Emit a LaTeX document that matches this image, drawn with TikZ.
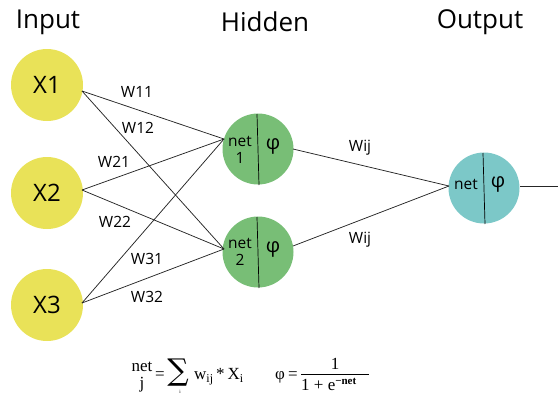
\documentclass[tikz,border=0pt]{standalone}
\usepackage{fontspec}
\setmainfont{Open Sans}
\newfontfamily\formfont{Liberation Serif}
\newfontfamily\symfont{DejaVu Serif}
\newcommand{\ff}{\fontsize{17}{17}\selectfont\formfont}
\begin{document}
\begin{tikzpicture}[x=1pt,y=-1pt,
  inp/.style={circle,fill=inyellow,minimum size=72pt,inner sep=0pt,font=\fontsize{24}{24}\selectfont},
  hid/.style={circle,fill=hidgreen,minimum size=71pt,inner sep=0pt},
  outn/.style={circle,fill=outteal,minimum size=71pt,inner sep=0pt},
  title/.style={font=\fontsize{26}{26}\selectfont},
  wlab/.style={font=\fontsize{15.5}{16}\selectfont},
  ntxt/.style={font=\fontsize{15.5}{17}\selectfont,align=center},
  phi/.style={font=\fontsize{20}{20}\selectfont},
  conn/.style={draw=black!85,line width=0.75pt},
  ft/.style={inner sep=0pt,anchor=base}]
\definecolor{inyellow}{RGB}{233,226,88}
\definecolor{hidgreen}{RGB}{120,190,118}
\definecolor{outteal}{RGB}{124,200,200}
\useasboundingbox (0,0) rectangle (558,400);
% titles
\node[title] (tin) at (48,22) {Input};
\node[title] (thid) at (265,22) {Hidden};
\node[title] (tout) at (480,22) {Output};
% input nodes
\node[inp] (x1) at (47,85) {X1};
\node[inp] (x2) at (47,193) {X2};
\node[inp] (x3) at (47,305) {X3};
% hidden nodes
\node[hid] (h1) at (258,149) {};
\node[hid] (h2) at (258,252) {};
\node[outn] (o) at (484,188) {};
% dividers
\draw[line width=0.7pt] (257,114) -- (259,185);
\draw[line width=0.7pt] (257,217) -- (259,288);
\draw[line width=0.7pt] (483,153) -- (485,224);
% node texts
\node[ntxt] (n1) at (240,150) {net\\1};
\node[ntxt] (n2) at (240,252) {net\\2};
\node[phi] (p1) at (273,146) {φ};
\node[phi] (p2) at (273,249) {φ};
\node[ntxt] (n3) at (466,184) {net};
\node[phi] (p3) at (498,184) {φ};
% anchor coordinates
\coordinate (s1) at (82,91);
\coordinate (s2) at (82,190);
\coordinate (s3) at (82,303);
\coordinate (t1) at (224,139);
\coordinate (t2) at (224,249);
\coordinate (u1) at (293,149);
\coordinate (u2) at (293,246);
\coordinate (v) at (449,186);
\coordinate (w) at (520,186);
\coordinate (wend) at (558,186);
% connections
\draw[conn] (s1) -- (t1);
\draw[conn] (s1) -- (t2);
\draw[conn] (s2) -- (t1);
\draw[conn] (s2) -- (t2);
\draw[conn] (s3) -- (t1);
\draw[conn] (s3) -- (t2);
\draw[conn] (u1) -- (v);
\draw[conn] (u2) -- (v);
\draw[conn] (w) -- (wend);
% weight labels
\node[wlab] (w11) at (137,92) {W11};
\node[wlab] (w12) at (138,128) {W12};
\node[wlab] (w21) at (114,162) {W21};
\node[wlab] (w22) at (115,222) {W22};
\node[wlab] (w31) at (147,259) {W31};
\node[wlab] (w32) at (147,297) {W32};
\node[wlab] (wij1) at (360,148) {Wij};
\node[wlab] (wij2) at (360,240) {Wij};
% formula 1
\node[ft] (fnet) at (142,371) {\ff net};
\node[ft] (fj) at (142,388) {\ff j};
\node[ft] (feq1) at (160,379) {\ff =};
\node[inner sep=0pt] (fsum) at (178,373) {\fontsize{30}{30}\selectfont\symfont ∑};
\node[ft] (fdot) at (180,393) {\fontsize{5}{5}\selectfont\formfont i};
\node[ft,anchor=base west] (fw) at (194,379) {\ff w\raisebox{-3pt}{\fontsize{12}{12}\selectfont ij}\hspace{3pt}*\hspace{3pt}X\raisebox{-3pt}{\fontsize{12}{12}\selectfont i}};
% formula 2
\node[ft] (fphi) at (280,379) {\ff φ};
\node[ft] (feq2) at (293,379) {\ff =};
\node[ft] (fnum) at (335,369) {\ff 1};
\draw[line width=0.6pt] (301,374) -- (369,374);
\node[ft,anchor=base west] (fden) at (301,390) {\ff 1 + e\raisebox{6pt}{\fontsize{11}{11}\selectfont\bfseries −net}};
\end{tikzpicture}
\end{document}
